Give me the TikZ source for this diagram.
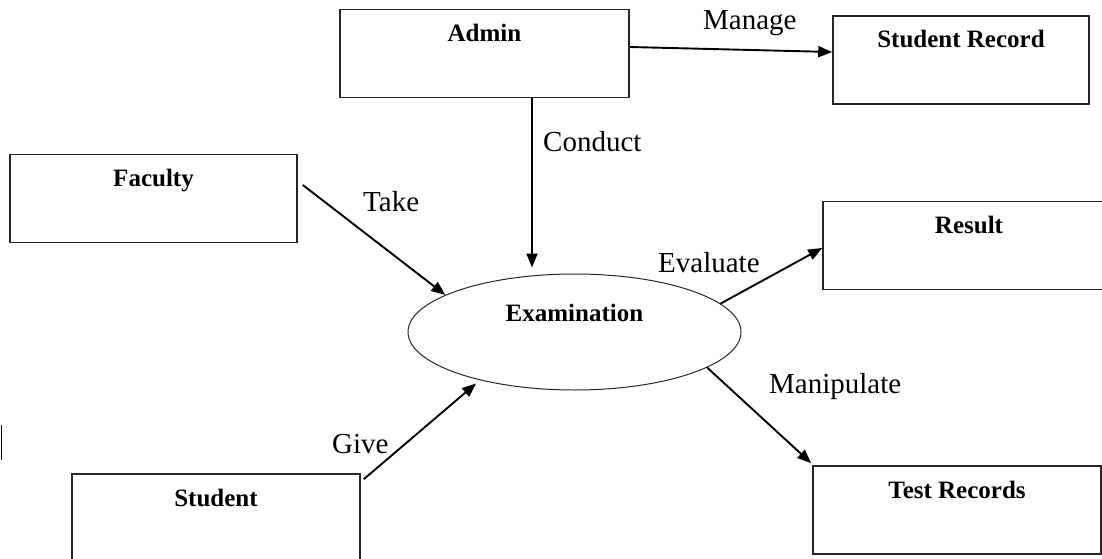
\documentclass[tikz,border=0pt]{standalone}
\usepackage{fontspec}
\setmainfont{Liberation Serif}
\usetikzlibrary{shapes,arrows.meta}
\tikzstyle{entity}=[rectangle,draw=black!85,line width=1.6pt,inner sep=0pt,font=\bfseries\fontsize{25}{30}\selectfont,text height=32pt,text depth=56pt]
\tikzstyle{proc}=[ellipse,draw=black!85,line width=1pt,inner sep=0pt,minimum width=333pt,minimum height=116pt,font=\bfseries\fontsize{25}{30}\selectfont,text height=10pt,text depth=32pt]
\tikzstyle{flow}=[line width=1.9pt,-{Triangle[length=14pt,width=11pt]}]
\tikzstyle{rel}=[anchor=base west,inner sep=0pt,font=\fontsize{29}{34}\selectfont]

\begin{document}
\begin{tikzpicture}[x=1pt,y=-1pt]
\useasboundingbox (0,0) rectangle (1102,559);
% entities
\node[entity,minimum width=289pt] (admin) at (484.5,53.5) {Admin};
\node[entity,minimum width=256pt] (srec) at (961,60) {Student Record};
\node[entity,minimum width=287pt] (faculty) at (153.5,198.5) {Faculty};
\node[entity,minimum width=292pt] (result) at (969,245.5) {Result};
\node[entity,minimum width=288pt] (testrec) at (957,510) {Test Records};
\node[entity,minimum width=288pt] (student) at (216,518) {Student};
\node[proc] (exam) at (574.5,332) {Examination};
% labels
\node[rel] (lmanage) at (703,30) {Manage};
\node[rel] (lconduct) at (543,151) {Conduct};
\node[rel] (ltake) at (363,211) {Take};
\node[rel] (leval) at (658,272) {Evaluate};
\node[rel] (lmanip) at (769,393) {Manipulate};
\node[rel] (lgive) at (332,453) {Give};
% arrows
\coordinate (cdown) at ([xshift=47.5pt]admin.south);
\draw[flow] ([yshift=6.5pt]admin.east) -- ([yshift=8pt]srec.west);
\draw[flow,shorten >=6pt] (cdown) -- (cdown |- exam.north);
\draw[flow] ([xshift=5pt,yshift=13.5pt]faculty.east) -- (exam.164);
\draw[flow,shorten >=5pt] ([xshift=3pt,yshift=-6pt]student.north east) -- (exam.207);
\draw[flow] (exam.11) -- ([yshift=-2.5pt]result.west);
\draw[flow] (exam.-15) -- ([xshift=-1pt,yshift=2pt]testrec.north west);
% stray mark
\draw[line width=1.4pt] (1.5,425) -- (1.5,460);
\end{tikzpicture}
\end{document}
